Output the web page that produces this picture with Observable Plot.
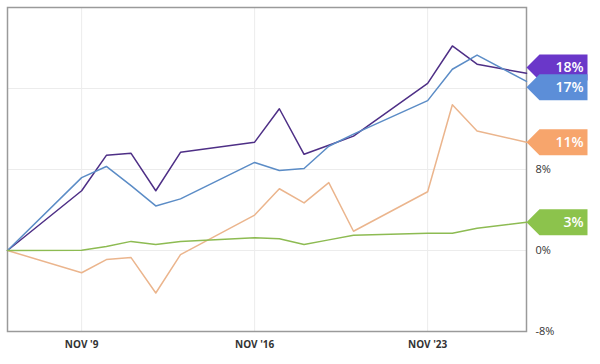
<!DOCTYPE html>
<html>
<head>
<meta charset="utf-8">
<script src="https://cdn.jsdelivr.net/npm/d3@7"></script>
<script src="https://cdn.jsdelivr.net/npm/@observablehq/plot@0.6"></script>
<style>
  html, body { margin: 0; padding: 0; background: #fff; }
  #chart { width: 600px; height: 364px; }
</style>
</head>
<body>
<div id="chart"></div>
<script>
const dates = ["2020-11-06","2020-11-09","2020-11-10","2020-11-11","2020-11-12","2020-11-13",
  "2020-11-16","2020-11-17","2020-11-18","2020-11-19","2020-11-20",
  "2020-11-23","2020-11-24","2020-11-25","2020-11-27"];
const seriesNames = ["Purple", "Blue", "Orange", "Green"];
const purple = [0, 5.9, 9.4, 9.6, 5.9, 9.7, 10.7, 14.0, 9.5, 10.4, 11.3, 16.5, 20.2, 18.4, 17.5];
const blue   = [0, 7.2, 8.3, 6.4, 4.4, 5.1, 8.7, 7.9, 8.1, 10.3, 11.5, 14.8, 17.9, 19.3, 16.7];
const orange = [0, -2.2, -0.9, -0.7, -4.2, -0.4, 3.5, 6.1, 4.7, 6.7, 1.9, 5.8, 14.4, 11.8, 10.7];
const green  = [0, 0.03, 0.4, 0.9, 0.6, 0.9, 1.25, 1.15, 0.6, 1.05, 1.5, 1.7, 1.7, 2.2, 2.8];
const endLabels = ["18%", "17%", "11%", "3%"];
const xTicks = ["2020-11-09", "2020-11-16", "2020-11-23"];
const yTicks = [-8, 0, 8];
const yGrid = [0, 8, 16];

const lineColors = ["#4e2f86", "#5b8cc6", "#ebb58d", "#8dbb52"];
const tagColors  = ["#6a37c9", "#5c8ed8", "#f7a56c", "#8cc34c"];

const allValues = [purple, blue, orange, green];
const parse = d3.utcParse("%Y-%m-%d");
const rows = [];
allValues.forEach((vals, s) => {
  vals.forEach((v, i) => rows.push({series: seriesNames[s], date: parse(dates[i]), value: v, color: lineColors[s]}));
});

// end tags with simple vertical dodging (in value units)
const lastDate = parse(dates[dates.length - 1]);
const tags = allValues.map((vals, s) => ({
  series: seriesNames[s], date: lastDate, value: vals[vals.length - 1], pos: vals[vals.length - 1],
  label: endLabels[s], color: tagColors[s]
}));
const minGap = 1.95;
const sorted = [...tags].sort((a, b) => b.value - a.value);
for (let i = 1; i < sorted.length; i++) {
  const a = sorted[i - 1], b = sorted[i];
  if (a.pos - b.pos < minGap) {
    const mid = (a.value + b.value) / 2;
    a.pos = mid + minGap / 2;
    b.pos = mid - minGap / 2;
  }
}

const tagSymbol = {
  draw(ctx, size) {
    const h = 13, n = 13, w = 61;
    ctx.moveTo(0, 0);
    ctx.lineTo(n, -h);
    ctx.lineTo(w, -h);
    ctx.lineTo(w, h);
    ctx.lineTo(n, h);
    ctx.closePath();
  }
};

const chart = Plot.plot({
  width: 600,
  height: 364,
  marginLeft: 7,
  marginRight: 74,
  marginTop: 7,
  marginBottom: 33,
  style: {fontFamily: "'Open Sans', sans-serif", background: "#fff"},
  x: {type: "utc", domain: [parse(dates[0]), lastDate]},
  y: {domain: [-8, 24]},
  marks: [
    Plot.gridY(yGrid, {stroke: "#ececec", strokeOpacity: 1}),
    Plot.gridX(xTicks.map(parse), {stroke: "#ececec", strokeOpacity: 1}),
    Plot.frame({stroke: "#9a9a9a", strokeWidth: 1.5}),
    Plot.axisX(xTicks.map(parse), {
      tickSize: 0, tickPadding: 9, label: null,
      tickFormat: d => "NOV '" + d.getUTCDate(),
      fontWeight: "bold", fontSize: 10, fill: "#333"
    }),
    Plot.axisY(yTicks, {
      anchor: "right", tickSize: 0, tickPadding: 9, label: null,
      tickFormat: d => d + "%", fontSize: 11, fill: "#333"
    }),
    Plot.line(rows, {x: "date", y: "value", z: "series", stroke: "color", strokeWidth: 1.5}),
    Plot.dot(tags, {x: "date", y: "pos", symbol: tagSymbol, fill: "color", stroke: "none", r: 5}),
    Plot.text(tags, {x: "date", y: "pos", text: "label", dx: 57, textAnchor: "end",
      fill: "#fff", fontWeight: 600, fontSize: 14})
  ]
});
document.getElementById("chart").appendChild(chart);
</script>
</body>
</html>
